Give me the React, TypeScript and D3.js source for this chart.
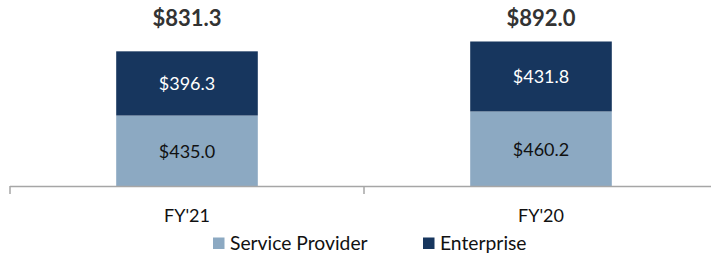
import React from "react";
import * as d3 from "d3";

const categories = ["FY'21", "FY'20"];
const serviceProvider = [435.0, 460.2];
const enterprise = [396.3, 431.8];
const totals = [831.3, 892.0];
const seriesNames = ["Service Provider", "Enterprise"];
const colors = ["#8CA9C2", "#17365E"];

const W = 711;
const H = 254;
const FONT = "Lato, 'Liberation Sans', Arial, sans-serif";

export default function App() {
  const x = d3.scaleBand<string>().domain(categories).range([10, 718]).padding(0);
  const y = d3.scaleLinear().domain([0, 1000]).range([186, 24]);
  const bw = x.bandwidth() * 0.4;
  const fmt = (v: number) => "$" + d3.format(".1f")(v);

  const stackData = categories.map((c, i) => ({ cat: c, sp: serviceProvider[i], ent: enterprise[i] }));
  const stack = d3.stack<any>().keys(["sp", "ent"])(stackData);

  const ticks = [...categories.map((c) => x(c)!), x(categories[categories.length - 1])! + x.bandwidth()];

  return (
    <svg width={W} height={H} style={{ position: "absolute", left: 0, top: 0 }}>
      {stack.map((layer, li) =>
        layer.map((d, i) => {
          const cx = x(categories[i])! + x.bandwidth() / 2;
          const y0 = y(d[0]);
          const y1 = y(d[1]);
          return (
            <g key={`${li}-${i}`}>
              <rect x={cx - bw / 2} y={y1} width={bw} height={y0 - y1} fill={colors[li]} />
              <text
                x={cx}
                y={(y0 + y1) / 2 + 7}
                textAnchor="middle"
                fontFamily={FONT}
                fontSize={18}
                fill={li === 0 ? "#111" : "#fff"}
              >
                {fmt(d[1] - d[0])}
              </text>
            </g>
          );
        })
      )}
      {totals.map((t, i) => (
        <text
          key={i}
          x={x(categories[i])! + x.bandwidth() / 2}
          y={25.5}
          textAnchor="middle"
          fontFamily={FONT}
          fontWeight="bold"
          fontSize={22}
          fill="#333"
        >
          {fmt(t)}
        </text>
      ))}
      <line x1={10} x2={718} y1={186.5} y2={186.5} stroke="#a6a6a6" strokeWidth={1.5} />
      {ticks.map((t, i) => (
        <line key={i} x1={t} x2={t} y1={186} y2={194} stroke="#a6a6a6" strokeWidth={1.5} />
      ))}
      {categories.map((c) => (
        <text
          key={c}
          x={x(c)! + x.bandwidth() / 2}
          y={221.5}
          textAnchor="middle"
          fontFamily={FONT}
          fontSize={18}
          fill="#111"
        >
          {c}
        </text>
      ))}
      {seriesNames.map((n, i) => {
        const lx = [213, 423][i];
        return (
          <g key={n}>
            <rect x={lx} y={237.5} width={11.5} height={11.5} fill={colors[i]} />
            <text x={lx + 17} y={250} fontFamily={FONT} fontSize={19.3} fill="#111">
              {n}
            </text>
          </g>
        );
      })}
    </svg>
  );
}
